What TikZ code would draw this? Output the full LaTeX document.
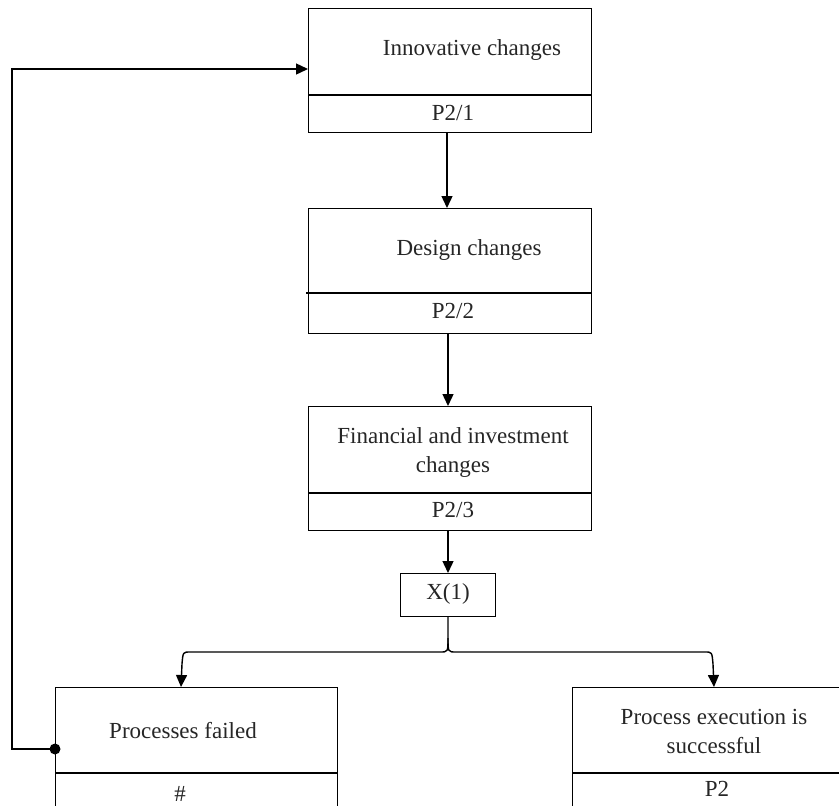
\documentclass[tikz,border=0pt]{standalone}
\usepackage{fontspec}
\setmainfont{Liberation Serif}
\usetikzlibrary{arrows.meta}
\begin{document}
\begin{tikzpicture}[x=1pt,y=-1pt,
  line width=1.4pt,
  box/.style={draw, rectangle, inner sep=0pt, anchor=north west},
  lbl/.style={inner sep=0pt, align=center, text=black!85, font=\fontsize{23}{29}\selectfont},
  arr/.style={-{Triangle[length=12pt,width=11pt]}}]
\useasboundingbox (0,0) rectangle (839,806);
\clip (0,0) rectangle (839,806);
% boxes
\node[box, minimum width=283pt, minimum height=124pt] (b1) at (308,8) {};
\node[box, minimum width=283pt, minimum height=125pt] (b2) at (308,208) {};
\node[box, minimum width=283pt, minimum height=124pt] (b3) at (308,406) {};
\node[box, minimum width=95pt, minimum height=43pt] (x1) at (400,573) {};
\node[box, minimum width=282pt, minimum height=150pt] (b4) at (55,687) {};
\node[box, minimum width=290pt, minimum height=150pt] (b5) at (572,687) {};
% dividers
\draw (308,95) -- (591,95);
\draw (306,293) -- (591,293);
\draw (308,493) -- (591,493);
\draw (55,773) -- (337,773);
\draw (572,773) -- (862,773);
% texts
\node[lbl] (t1) at (472,50) {Innovative changes};
\node[lbl] (p1) at (453,113) {P2/1};
\node[lbl] (t2) at (469,250) {Design changes};
\node[lbl] (p2) at (453,311) {P2/2};
\node[lbl] (t3) at (453,452) {Financial and investment\\changes};
\node[lbl] (p3) at (453,510) {P2/3};
\node[lbl] (tx) at (448,594) {X(1)};
\node[lbl] (t4) at (183,731) {Processes failed};
\node[lbl] (p4) at (180,794) {\#};
\node[lbl] (t5) at (714,731) {Process execution is\\successful};
\node[lbl] (p5) at (717,789) {P2};
% connectors
\draw[arr] (447,132) -- (447,208);
\draw[arr] (448,333) -- (448,406);
\draw[arr] (448,530) -- (448,573);
\coordinate (xs) at (448,616);
\draw[arr] (xs) -- (448,638) .. controls (448,652) .. (440,652) -- (190,652)
  .. controls (183,652) .. (182,664) -- (181,687);
\draw[arr] (448,638) .. controls (448,652) .. (456,652) -- (705,652)
  .. controls (712,652) .. (713,664) -- (714,687);
\coordinate (fb) at (55,749);
\fill (fb) circle (5.5pt);
\draw[arr] (fb) -- (12,749) -- (12,69) -- (308,69);
\end{tikzpicture}
\end{document}
